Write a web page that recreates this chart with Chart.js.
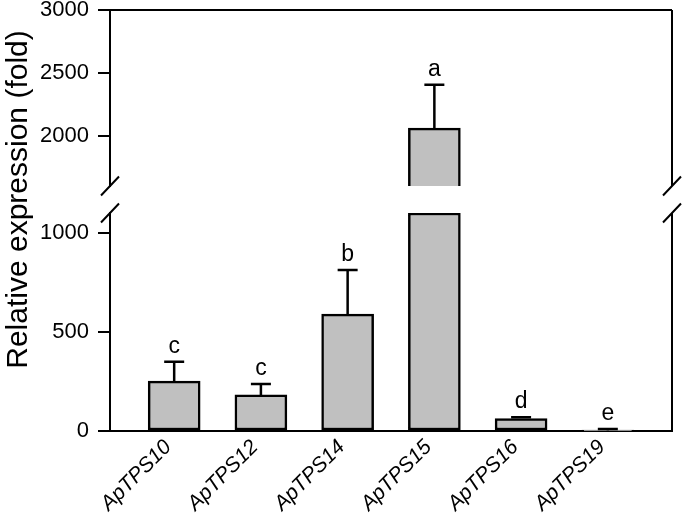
<!DOCTYPE html>
<html>
<head>
<meta charset="utf-8">
<script src="https://cdn.jsdelivr.net/npm/chart.js@4.4.1/dist/chart.umd.min.js"></script>
<style>
    body { margin: 0; background: #fff; }
    #wrap { width: 685px; height: 521px; position: relative; }
</style>
</head>
<body>
<div id="wrap"><canvas id="chartCanvas"></canvas></div>
<script>
// === Data ===
const categories = ["ApTPS10", "ApTPS12", "ApTPS14", "ApTPS15", "ApTPS16", "ApTPS19"];
const means = [252, 182, 590, 2060, 63, 2];
const errors = [98, 55, 222, 345, 6, 8];
const letters = ["c", "c", "b", "a", "d", "e"];

// broken y axis: lower and upper segments
const lowerRange = [0, 1100];
const upperRange = [1600, 3000];
const lowerTicks = [0, 500, 1000];
const upperTicks = [2000, 2500, 3000];

const FONT = "'Liberation Sans', Arial, sans-serif";

// lower segment shows every bar, capped at the top of the segment
const lowerData = means.map((v, i) => ({ x: i, y: Math.min(v, lowerRange[1]) }));
// upper segment only shows bars that reach into it
const upperData = means.map((v, i) => ({ x: i, y: v > upperRange[0] ? v : null }));

const barStyle = {
    backgroundColor: "#c0c0c0",
    borderColor: "#000",
    borderWidth: 2.5,
    borderSkipped: false,
    barThickness: 52,
    grouped: false
};

const yAxisBase = (ticks) => ({
    type: "linear",
    position: "left",
    stack: "left",
    afterBuildTicks: (s) => { s.ticks = ticks.map(v => ({ value: v })); },
    afterFit: (s) => { s.width = 110; s.paddingTop = 10; s.paddingBottom = 0; },
    ticks: {
        color: "#000",
        padding: 9,
        font: { family: FONT, size: 22 },
        callback: (v) => String(v)
    },
    grid: { drawOnChartArea: false, drawTicks: true, tickLength: 12, color: "#000", lineWidth: 2 },
    border: { display: true, color: "#000", width: 2 }
});

// frame, axis breaks
const framePlugin = {
    id: "frame",
    afterDraw(chart) {
        const ctx = chart.ctx;
        const area = chart.chartArea;
        const top = chart.scales.yTop;
        const low = chart.scales.y;
        ctx.save();
        ctx.strokeStyle = "#000";
        ctx.lineWidth = 2;
        ctx.beginPath();
        ctx.moveTo(area.left, area.top);
        ctx.lineTo(area.right, area.top);
        ctx.moveTo(area.right, top.top);
        ctx.lineTo(area.right, top.bottom);
        ctx.moveTo(area.right, low.top);
        ctx.lineTo(area.right, low.bottom);
        [area.left, area.right].forEach(x => {
            [top.bottom, low.top].forEach(y => {
                ctx.moveTo(x - 9, y + 9.5);
                ctx.lineTo(x + 9, y - 9.5);
            });
        });
        ctx.stroke();
        ctx.restore();
    }
};

// error bars (upper side) and letters
const errorPlugin = {
    id: "errorBars",
    afterDatasetsDraw(chart) {
        const ctx = chart.ctx;
        const xs = chart.scales.x;
        ctx.save();
        ctx.strokeStyle = "#000";
        ctx.lineWidth = 2.5;
        ctx.fillStyle = "#000";
        ctx.font = "23px " + FONT;
        ctx.textAlign = "center";
        ctx.textBaseline = "alphabetic";
        means.forEach((m, i) => {
            const sc = m > lowerRange[1] ? chart.scales.yTop : chart.scales.y;
            const x = xs.getPixelForValue(i);
            const y0 = sc.getPixelForValue(m);
            const y1 = sc.getPixelForValue(m + errors[i]);
            ctx.beginPath();
            ctx.moveTo(x, y0);
            ctx.lineTo(x, y1);
            ctx.moveTo(x - 10, y1);
            ctx.lineTo(x + 10, y1);
            ctx.stroke();
            ctx.fillText(letters[i], x, y1 - 9);
        });
        ctx.restore();
    }
};

new Chart(document.getElementById("chartCanvas").getContext("2d"), {
    type: "bar",
    data: {
        datasets: [
            Object.assign({ label: "upper", data: upperData, yAxisID: "yTop" }, barStyle),
            Object.assign({ label: "lower", data: lowerData, yAxisID: "y" }, barStyle)
        ]
    },
    options: {
        responsive: true,
        maintainAspectRatio: false,
        animation: false,
        layout: { padding: { left: 0, top: 0, right: 13, bottom: 0 } },
        plugins: { legend: { display: false }, tooltip: { enabled: false } },
        scales: {
            x: {
                type: "linear",
                offset: false,
                min: -0.74,
                max: 5.74,
                afterBuildTicks: (s) => { s.ticks = categories.map((c, i) => ({ value: i })); },
                afterFit: (s) => { s.height = 90; },
                ticks: {
                    autoSkip: false,
                    minRotation: 45,
                    maxRotation: 45,
                    padding: -4,
                    labelOffset: -6,
                    color: "#000",
                    font: { family: FONT, size: 21, style: "italic" },
                    callback: (v) => categories[v]
                },
                grid: { display: false },
                border: { display: true, color: "#000", width: 2 }
            },
            // left boxes are laid out in reverse order: lower segment first
            y: Object.assign(yAxisBase(lowerTicks), {
                min: lowerRange[0], max: lowerRange[1], stackWeight: 218
            }),
            yGap: {
                type: "linear",
                position: "left",
                stack: "left",
                stackWeight: 27,
                min: 0,
                max: 1,
                afterFit: (s) => { s.width = 110; s.paddingTop = 10; s.paddingBottom = 0; },
                ticks: { display: false },
                grid: { display: false },
                border: { display: false },
                title: {
                    display: true,
                    text: "Relative expression (fold)",
                    color: "#000",
                    padding: { top: 1, bottom: 0 },
                    font: { family: FONT, size: 30 }
                }
            },
            yTop: Object.assign(yAxisBase(upperTicks), {
                min: upperRange[0], max: upperRange[1], stackWeight: 176
            })
        }
    },
    plugins: [framePlugin, errorPlugin]
});
</script>
</body>
</html>
